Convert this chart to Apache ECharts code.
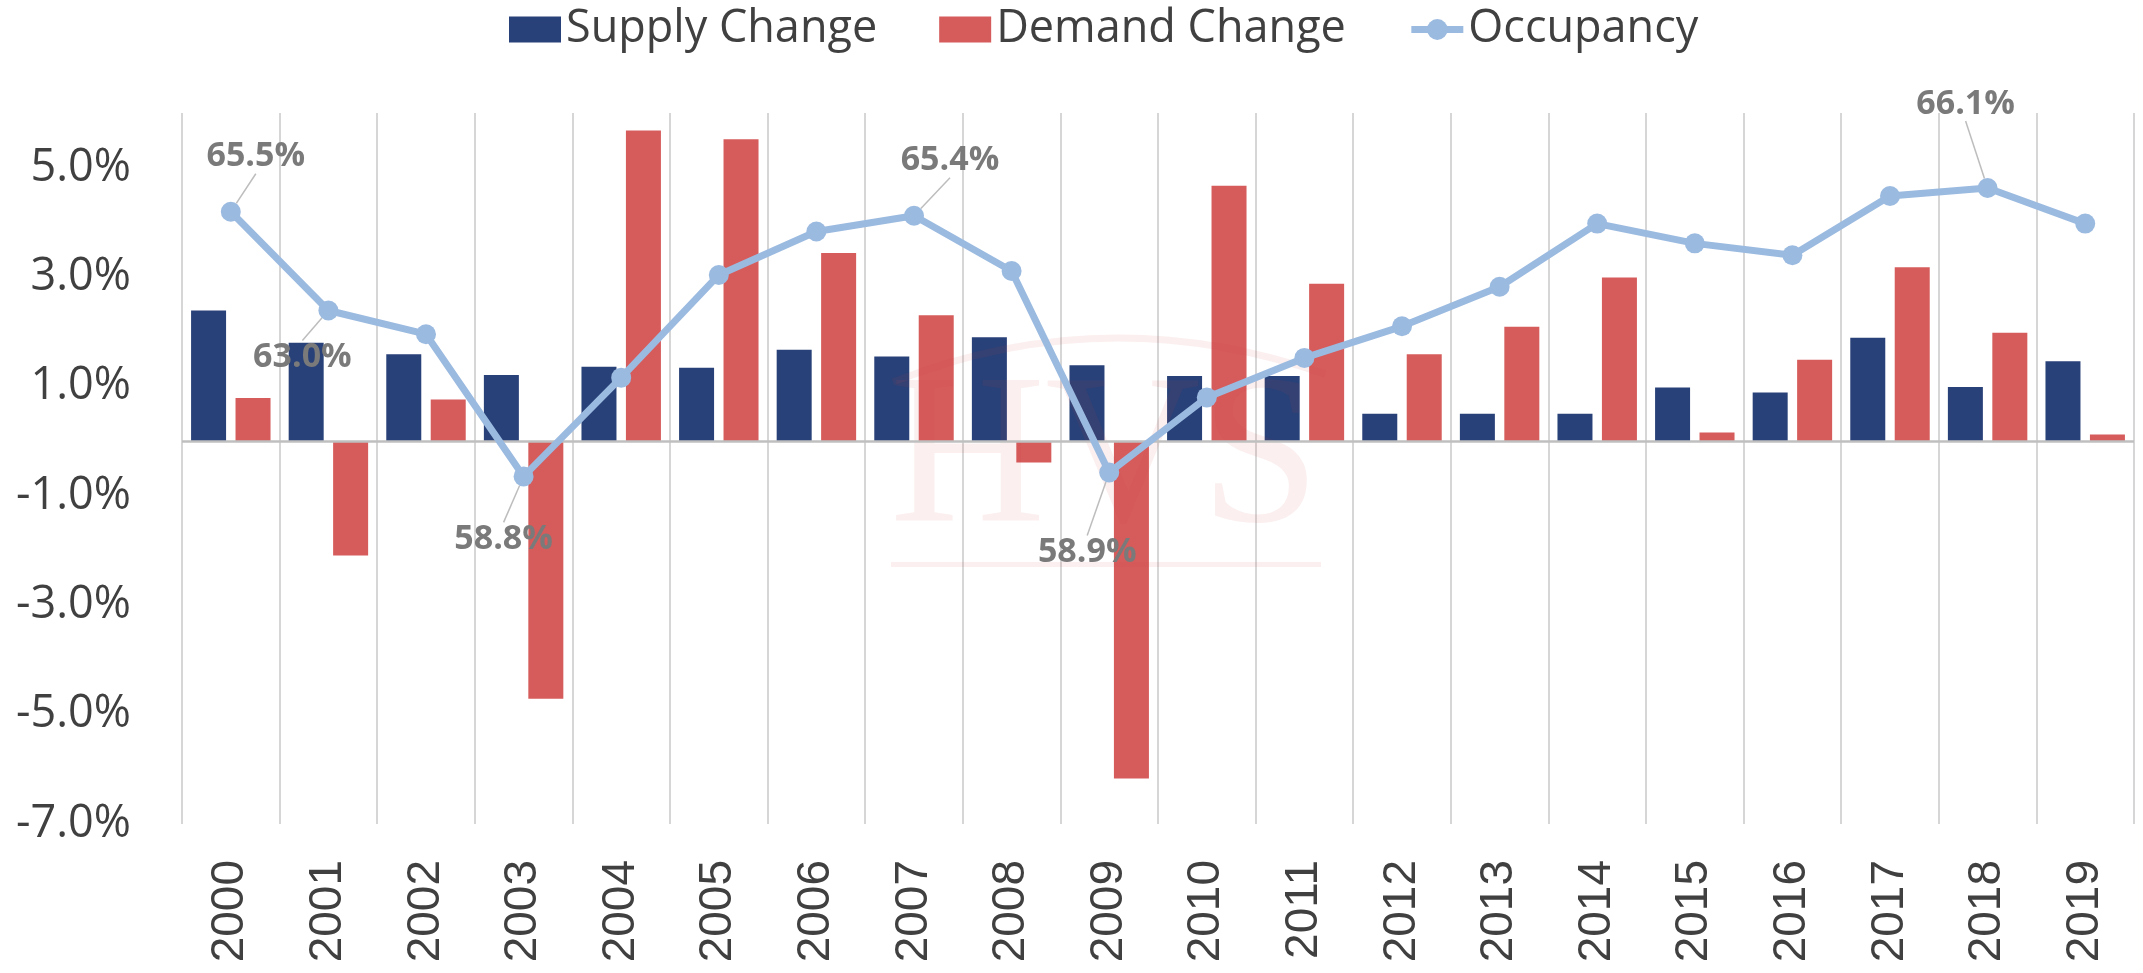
<!DOCTYPE html>
<html>
<head>
<meta charset="utf-8">
<script src="https://cdn.jsdelivr.net/npm/echarts@6/dist/echarts.min.js"></script>
<style>
  html, body { margin: 0; padding: 0; background: #ffffff; }
  #chart { width: 2143px; height: 973px; }
</style>
</head>
<body>
<div id="chart"></div>
<script>
// ---- data ----
const years = ['2000','2001','2002','2003','2004','2005','2006','2007','2008','2009',
               '2010','2011','2012','2013','2014','2015','2016','2017','2018','2019'];
const supplyChange = [2.39, 1.80, 1.59, 1.21, 1.36, 1.34, 1.67, 1.55, 1.90, 1.39,
                      1.19, 1.19, 0.50, 0.50, 0.50, 0.98, 0.89, 1.89, 0.99, 1.46];
const demandChange = [0.79, -2.09, 0.76, -4.71, 5.68, 5.52, 3.44, 2.30, -0.39, -6.17,
                      4.67, 2.88, 1.59, 2.09, 2.99, 0.16, 1.49, 3.18, 1.98, 0.12];
const occupancy = [65.5, 63.0, 62.4, 58.8, 61.3, 63.9, 65.0, 65.4, 64.0, 58.9,
                   60.8, 61.8, 62.6, 63.6, 65.2, 64.7, 64.4, 65.9, 66.1, 65.2];
const labeledYears = ['2000','2001','2003','2007','2009','2018'];
const leftTicks = [-7, -5, -3, -1, 1, 3, 5];

// label placement (style only)
const labelShift = {0: [25, -55], 1: [-26, 47], 3: [-20, 63], 7: [36, -55], 9: [-22, 80], 18: [-22, -84]};

const occData = occupancy.map((v, i) => labeledYears.includes(years[i])
  ? { value: v, label: { show: true } } : v);

const chart = echarts.init(document.getElementById('chart'), null, { renderer: 'canvas' });
const wmColor = 'rgba(205,70,70,0.085)';
chart.setOption({
  backgroundColor: '#ffffff',
  animation: false,
  textStyle: { fontFamily: 'Open Sans' },
  legend: {
    left: 504, top: 2,
    itemWidth: 52, itemHeight: 26, itemGap: 62,
    textStyle: { fontFamily: 'Open Sans', fontSize: 45, color: '#404040' },
    data: [
      { name: 'Supply Change', icon: 'rect' },
      { name: 'Demand Change', icon: 'rect' },
      { name: 'Occupancy', lineStyle: { width: 7 } }
    ]
  },
  grid: { left: 182, right: 9, top: 113, bottom: 149, containLabel: false },
  xAxis: {
    type: 'category',
    data: years,
    boundaryGap: true,
    axisLine: { show: false },
    axisTick: { show: false },
    splitLine: { show: true, interval: 0, lineStyle: { color: '#c8c8c8', width: 1.5 } },
    axisLabel: {
      interval: 0, rotate: 90, margin: 36,
      fontFamily: 'Liberation Sans', fontSize: 46, color: '#404040'
    }
  },
  yAxis: [
    {
      type: 'value', min: leftTicks[0], max: 6, interval: 2,
      axisLine: { show: false }, axisTick: { show: false },
      splitLine: { show: false },
      axisLabel: {
        showMaxLabel: false, margin: 51,
        fontFamily: 'Open Sans', fontSize: 45, color: '#404040',
        formatter: v => leftTicks.includes(v) ? v.toFixed(1) + '%' : ''
      }
    },
    {
      type: 'value', min: 50, max: 68, show: false,
      splitLine: { show: false }
    }
  ],
  series: [
    {
      name: 'Supply Change', type: 'bar', data: supplyChange,
      barWidth: 35, barGap: '27%', z: 2,
      itemStyle: { color: '#284178' },
      markLine: {
        silent: true, symbol: 'none', label: { show: false },
        lineStyle: { color: '#bfbfbf', width: 2.5, type: 'solid' },
        data: [{ yAxis: 0 }]
      }
    },
    {
      name: 'Demand Change', type: 'bar', data: demandChange,
      barWidth: 35, barGap: '27%', z: 2,
      itemStyle: { color: '#d65b5b' }
    },
    {
      name: 'Occupancy', type: 'line', yAxisIndex: 1, data: occData,
      z: 6,
      symbol: 'circle', symbolSize: 20,
      lineStyle: { color: '#9bbae0', width: 7 },
      itemStyle: { color: '#9bbae0' },
      label: {
        show: false, position: 'inside',
        fontFamily: 'Open Sans', fontWeight: 'bold', fontSize: 34, color: '#7a7a7a',
        formatter: p => p.value.toFixed(1) + '%'
      },
      labelLine: { show: true, lineStyle: { color: '#bdbdbd', width: 1.5 } },
      labelLayout: p => {
        const s = labelShift[p.dataIndex];
        return s ? { dx: s[0], dy: s[1] } : {};
      }
    }
  ],
  graphic: [
    {
      type: 'text', silent: true, z: 3,
      style: {
        text: 'HVS', x: 1105, y: 465, textAlign: 'center', textVerticalAlign: 'middle',
        font: '215px "Liberation Serif"', fill: wmColor
      }
    },
    {
      type: 'rect', silent: true, z: 3,
      shape: { x: 891, y: 562, width: 430, height: 5 },
      style: { fill: wmColor }
    },
    {
      type: 'bezierCurve', silent: true, z: 3,
      shape: { x1: 893, y1: 382, cpx1: 1105, cpy1: 298, x2: 1325, y2: 374 },
      style: { stroke: wmColor, lineWidth: 7, fill: null }
    }
  ]
});
</script>
</body>
</html>
